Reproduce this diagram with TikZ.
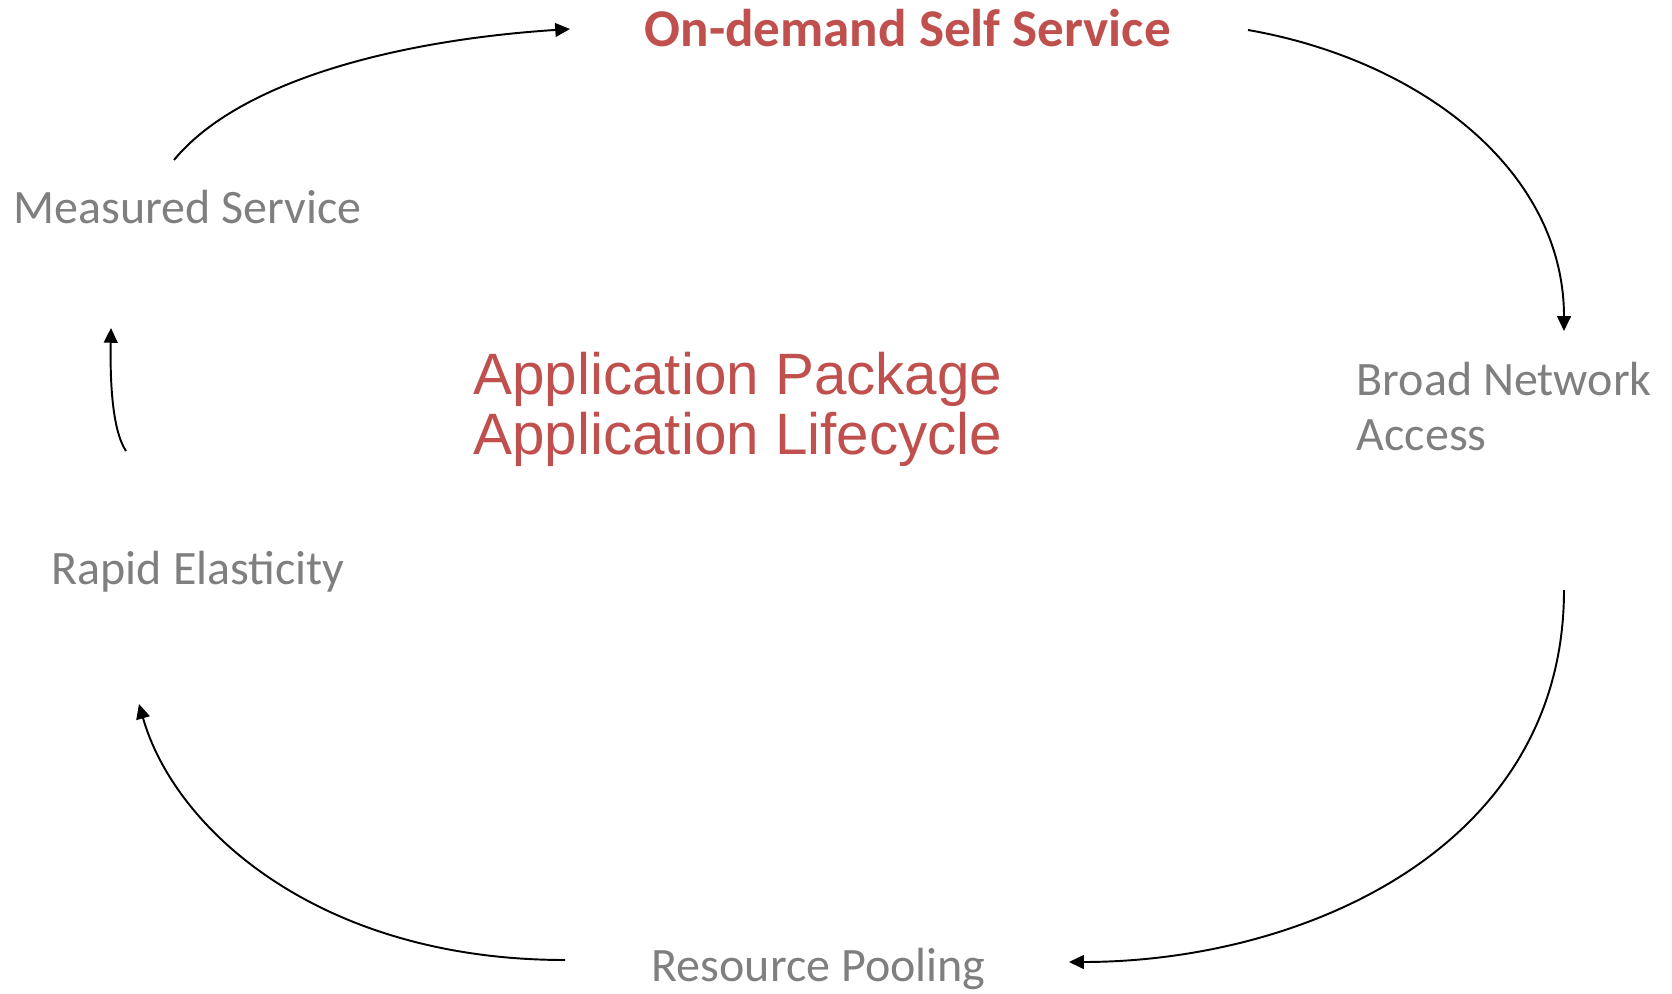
\documentclass[tikz,border=0pt]{standalone}
\usepackage{fontspec}
\setmainfont{Carlito}
\newfontfamily\arialfont{Liberation Sans}
\usetikzlibrary{arrows.meta}
\definecolor{accent}{HTML}{C0504D}
\definecolor{muted}{HTML}{7F7F7F}
\tikzset{
  title/.style={anchor=base west, inner sep=0pt, text=accent, font=\fontsize{15.1}{18}\selectfont\bfseries},
  stage/.style={anchor=base west, inner sep=0pt, text=muted, align=left, font=\fontsize{13.65}{15.6}\selectfont},
  core/.style={anchor=base, inner sep=0pt, text=accent, align=center, font=\arialfont\fontsize{16.6}{17.3}\selectfont},
  flow/.style={line width=0.55pt, -{Triangle[length=4.2pt,width=3.9pt]}}
}
\begin{document}
\begin{tikzpicture}[x=0.01cm, y=-0.01cm]
\useasboundingbox (0,0) rectangle (1672,994);

% labels of the cycle (multi-line nodes sit on their last baseline)
\node[title] (ods) at (644,47) {On-demand Self Service};
\node[stage] (bna) at (1356,450) {Broad Network\\Access};
\node[stage] (rp)  at (651,981) {Resource Pooling};
\node[stage] (re)  at (51,584) {Rapid Elasticity};
\node[stage] (ms)  at (13,224) {Measured Service};
\node[core]  (app) at (738,455) {Application Package\\Application Lifecycle};

% free ends of the connectors
\coordinate (ms-out)  at (174,160);
\coordinate (ods-in)  at (570,29);
\coordinate (ods-out) at (1248,30);
\coordinate (bna-in)  at (1564,331);
\coordinate (bna-out) at (1564,590);
\coordinate (rp-in)   at (1069,962);
\coordinate (rp-out)  at (565,960);
\coordinate (re-in)   at (139,704);
\coordinate (re-out)  at (126,451);
\coordinate (ms-in)   at (111,328);

% cycle connectors
\draw[flow] (ms-out) .. controls (240,80) and (400,40) .. (ods-in);
\draw[flow] (ods-out) .. controls (1420,60) and (1564,170) .. (bna-in);
\draw[flow] (bna-out) .. controls (1564,850) and (1300,962) .. (rp-in);
\draw[flow] (rp-out) .. controls (320,960) and (175,830) .. (re-in);
\draw[flow] (re-out) .. controls (112,430) and (110,380) .. (ms-in);
\end{tikzpicture}
\end{document}
